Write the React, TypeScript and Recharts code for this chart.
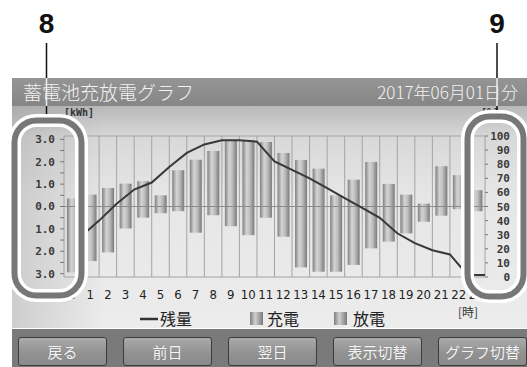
import { ComposedChart, Bar, Line, XAxis, YAxis, ReferenceLine } from 'recharts'

const hours = ['0', '1', '2', '3', '4', '5', '6', '7', '8', '9', '10', '11', '12', '13', '14', '15', '16', '17', '18', '19', '20', '21', '22', '23']
// kWh charged / discharged in each hour
const chargeKwh = [0.36, 0.53, 0.83, 1.02, 1.13, 0.5, 1.62, 2.09, 2.48, 2.95, 2.95, 2.88, 2.39, 2.08, 1.69, 0.5, 1.2, 1.99, 1.01, 0.53, 0.13, 1.8, 1.4, 0.73]
const dischargeKwh = [2.94, 2.44, 2.05, 0.98, 0.5, 0.3, 0.21, 1.17, 0.39, 0.88, 1.28, 0.5, 1.35, 2.72, 2.91, 2.91, 2.61, 1.87, 1.57, 1.2, 0.68, 0.41, 0.12, 0.21]
// remaining charge (%) at the end of each hour
const remainingPct = [29, 40, 52, 62, 67, 78, 88, 94, 97, 97, 96, 82, 76, 70, 63, 56, 49, 42, 31, 24, 19, 16, 1.5, 1.5]
const kwhTicks = [-3, -2.5, -2, -1.5, -1, -0.5, 0, 0.5, 1, 1.5, 2, 2.5, 3]
const pctTicks = [0, 10, 20, 30, 40, 50, 60, 70, 80, 90, 100]
const buttons = ['戻る', '前日', '翌日', '表示切替', 'グラフ切替']

const barRows = hours.map((_, i) => ({ t: i + 0.5, charge: chargeKwh[i], discharge: -dischargeKwh[i] }))
const socRows = remainingPct.map((v, i) => ({ t: i + 1, soc: v }))

const jp = "'Noto Sans CJK JP', 'Noto Sans', sans-serif"
const mono = "'DejaVu Sans Mono', 'Liberation Mono', monospace"

function PctTick(props: any) {
  const { x, y, payload } = props
  return (
    <text x={x + 20} y={y} dy={4} textAnchor="end" fontSize={11} fontWeight="bold" fontFamily={mono} fill="#3a3a3a">
      {payload.value}
    </text>
  )
}

export default function App() {
  return (
    <div style={{ position: 'fixed', left: 0, top: 0, width: 527, height: 367, background: '#fff', overflow: 'hidden' }}>
      {/* header */}
      <div style={{ position: 'absolute', left: 12, top: 78, width: 515, height: 28, background: 'linear-gradient(#959595, #868686)' }}>
        <span style={{ position: 'absolute', left: 11, top: 0, lineHeight: '28px', fontSize: 19, fontWeight: 300, fontFamily: jp, color: '#f2f2f2' }}>蓄電池充放電グラフ</span>
        <span style={{ position: 'absolute', right: 9, top: 0, lineHeight: '28px', fontSize: 17, fontWeight: 300, fontFamily: jp, color: '#f2f2f2' }}>2017年06月01日分</span>
      </div>
      {/* chart panel */}
      <div
        style={{
          position: 'absolute', left: 12, top: 106, width: 515, height: 222,
          background: 'linear-gradient(90deg, rgba(150,150,150,0.35), rgba(150,150,150,0) 18%), linear-gradient(#b8b8b8 0%, #d8d8d8 14%, #e6e6e6 40%, #ececec 100%)',
        }}
      />
      <div style={{ position: 'absolute', left: 0, top: 106 }}>
        <ComposedChart width={527} height={222} data={barRows} stackOffset="sign" margin={{ top: 30, right: 0, bottom: 21, left: 12 }}>
          <defs>
            <linearGradient id="cyl" x1="0" y1="0" x2="1" y2="0">
              <stop offset="0%" stopColor="#808080" />
              <stop offset="35%" stopColor="#d4d4d4" />
              <stop offset="60%" stopColor="#c0c0c0" />
              <stop offset="100%" stopColor="#7a7a7a" />
            </linearGradient>
          </defs>
          <XAxis
            type="number"
            dataKey="t"
            domain={[0, 24]}
            ticks={hours.map((_, i) => i + 0.5)}
            interval={0}
            tickFormatter={(v) => hours[Math.floor(v)]}
            tickLine={false}
            axisLine={false}
            tickSize={0}
            tickMargin={13}
            height={30}
            tick={{ fontSize: 13, fill: '#222', fontFamily: "'Liberation Sans Narrow', 'DejaVu Sans Condensed', sans-serif" }}
          />
          <XAxis xAxisId="soc" type="number" dataKey="t" domain={[0, 24]} hide />
          <YAxis
            yAxisId="kwh"
            domain={[-3.15, 3.15]}
            ticks={kwhTicks}
            interval={0}
            width={52}
            axisLine={false}
            tickSize={4}
            tickMargin={5}
            tickLine={{ stroke: '#777' }}
            tickFormatter={(v) => (Number.isInteger(v) ? Math.abs(v).toFixed(1) : '')}
            tick={{ fontSize: 11, fontWeight: 'bold', fill: '#3a3a3a', fontFamily: mono }}
          />
          <YAxis
            yAxisId="pct"
            orientation="right"
            domain={[0, 100]}
            ticks={pctTicks}
            interval={0}
            width={42}
            axisLine={false}
            tickSize={3}
            tickMargin={2}
            tickLine={{ stroke: '#777' }}
            tick={<PctTick />}
          />
          {hours.concat(['24']).map((_, i) => (
            <ReferenceLine key={i} x={i} yAxisId="kwh" stroke="#a4a4a4" strokeWidth={1} />
          ))}
          <ReferenceLine y={3.15} yAxisId="kwh" stroke="#a4a4a4" />
          <ReferenceLine y={-3.15} yAxisId="kwh" stroke="#a4a4a4" />
          <Bar yAxisId="kwh" dataKey="charge" stackId="a" barSize={12} fill="url(#cyl)" isAnimationActive={false} />
          <Bar yAxisId="kwh" dataKey="discharge" stackId="a" barSize={12} fill="url(#cyl)" isAnimationActive={false} />
          <ReferenceLine y={0} yAxisId="kwh" stroke="#8c8c8c" />
          <Line
            data={socRows}
            xAxisId="soc"
            yAxisId="pct"
            dataKey="soc"
            type="linear"
            stroke="#383838"
            strokeWidth={2}
            dot={false}
            isAnimationActive={false}
          />
        </ComposedChart>
      </div>
      {/* legend */}
      <svg width={527} height={367} style={{ position: 'absolute', left: 0, top: 0, pointerEvents: 'none' }}>
        <defs>
          <linearGradient id="legCyl" x1="0" y1="0" x2="1" y2="0">
            <stop offset="0%" stopColor="#7e7e7e" />
            <stop offset="40%" stopColor="#cfcfcf" />
            <stop offset="100%" stopColor="#7a7a7a" />
          </linearGradient>
        </defs>
        <line x1={140} x2={158} y1={319} y2={319} stroke="#333" strokeWidth={2.5} />
        <text x={160} y={325} fontSize={16} fontFamily={jp} fill="#222">残量</text>
        <rect x={250} y={312} width={13} height={13} fill="url(#legCyl)" />
        <text x={267} y={325} fontSize={16} fontFamily={jp} fill="#222">充電</text>
        <rect x={334} y={312} width={13} height={13} fill="url(#legCyl)" />
        <text x={353} y={325} fontSize={16} fontFamily={jp} fill="#222">放電</text>
        <text x={458} y={317} fontSize={12} fontFamily={jp} fill="#333">[時]</text>
        <text x={64} y={116} fontSize={10} fontWeight="bold" fontFamily={mono} fill="#333">[kWh]</text>
        <text x={481} y={116} fontSize={10} fontWeight="bold" fontFamily={mono} fill="#333">[%]</text>
      </svg>
      {/* button strip */}
      <div style={{ position: 'absolute', left: 12, top: 329, width: 515, height: 38, background: '#7a7a7a' }}>
        {buttons.map((b, i) => (
          <div
            key={b}
            style={{
              position: 'absolute', left: 6 + i * 105, top: 8, width: 89, height: 29,
              border: '1px solid #3c3c3c', borderRadius: 3, boxSizing: 'border-box',
              background: 'linear-gradient(#aaaaaa, #929292 55%, #8a8a8a)',
              color: '#f4f4f4', fontFamily: jp, fontSize: 15, lineHeight: '27px', textAlign: 'center',
              textShadow: '0 0 1px #777',
            }}
          >
            {b}
          </div>
        ))}
      </div>
      {/* callouts */}
      <svg width={527} height={367} style={{ position: 'absolute', left: 0, top: 0, pointerEvents: 'none' }}>
        <rect x={14.5} y={120.5} width={67} height={175} rx={22} fill="none" stroke="#fff" strokeWidth={13} />
        <rect x={14.5} y={120.5} width={67} height={175} rx={22} fill="none" stroke="#777" strokeWidth={6} />
        <rect x={467.5} y={116.5} width={56} height={180} rx={22} fill="none" stroke="#fff" strokeWidth={13} />
        <rect x={467.5} y={116.5} width={56} height={180} rx={22} fill="none" stroke="#777" strokeWidth={6} />
        <line x1={46.5} x2={46.5} y1={43} y2={78} stroke="#111" strokeWidth={1.5} />
        <line x1={46.5} x2={46.5} y1={78} y2={106} stroke="#eee" strokeWidth={1.5} />
        <line x1={46.5} x2={46.5} y1={106} y2={114} stroke="#111" strokeWidth={1.5} />
        <line x1={497} x2={497} y1={43} y2={78} stroke="#111" strokeWidth={1.5} />
        <line x1={497} x2={497} y1={78} y2={106} stroke="#eee" strokeWidth={1.5} />
        <line x1={497} x2={497} y1={106} y2={110} stroke="#111" strokeWidth={1.5} />
        <text x={46.5} y={33} textAnchor="middle" fontSize={28} fontWeight="bold" fontFamily="'Liberation Sans', Arial, sans-serif" fill="#111">8</text>
        <text x={497} y={33} textAnchor="middle" fontSize={28} fontWeight="bold" fontFamily="'Liberation Sans', Arial, sans-serif" fill="#111">9</text>
      </svg>
    </div>
  )
}
